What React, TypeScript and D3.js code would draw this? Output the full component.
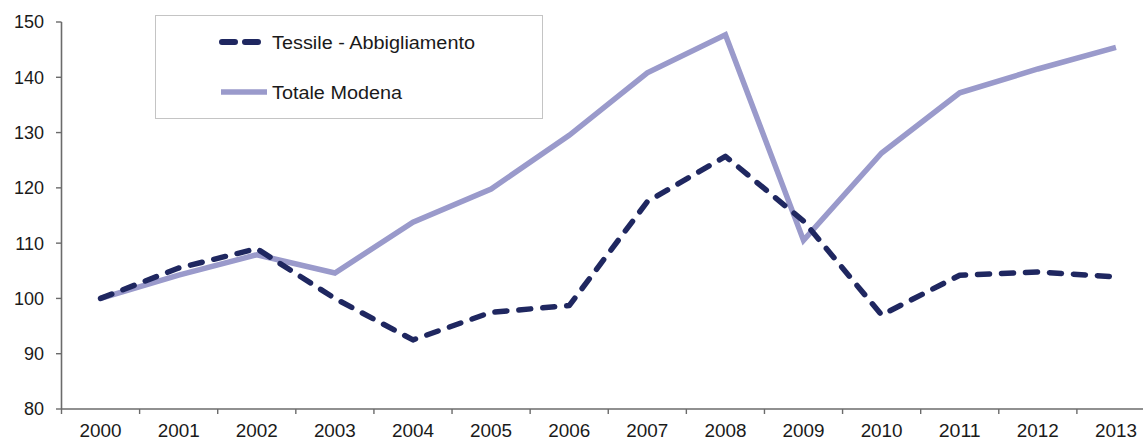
import React from "react";
import * as d3 from "d3";

const years = ["2000","2001","2002","2003","2004","2005","2006","2007","2008","2009","2010","2011","2012","2013"];
const tessile = [100, 105.5, 109, 100, 92.5, 97.5, 98.7, 117.5, 125.7, 114, 97, 104.2, 104.8, 103.9];
const totale = [100, 104.2, 107.9, 104.6, 113.8, 119.8, 129.5, 140.8, 147.7, 110.5, 126.3, 137.2, 141.5, 145.4];
const yTicks = [80, 90, 100, 110, 120, 130, 140, 150];
const seriesNames = ["Tessile - Abbigliamento", "Totale Modena"];

const W = 1143, H = 441;
const FONT = "'Liberation Sans', Arial, sans-serif";

export default function App() {
  const x = d3.scaleBand<string>().domain(years).range([61.5, 1155]);
  const y = d3.scaleLinear().domain([80, 150]).range([409, 22]);
  const cx = (i: number) => (x(years[i]) as number) + x.bandwidth() / 2;
  const line = d3.line<number>().x((_, i) => cx(i)).y((d) => y(d));
  const axisColor = "#6b6b6b";
  const dark = "#1f2760";
  const light = "#9a9acb";
  const txt = "#1a1a1a";

  return (
    <svg width={W} height={H} style={{ position: "absolute", left: 0, top: 0, background: "#fff" }}>
      {/* y axis */}
      <line x1={61.5} x2={61.5} y1={y(150)} y2={y(80)} stroke={axisColor} strokeWidth={1.6} />
      {yTicks.map((t) => (
        <g key={t}>
          <line x1={56} x2={61.5} y1={y(t)} y2={y(t)} stroke={axisColor} strokeWidth={1.4} />
          <text x={44} y={y(t)} dy="0.36em" textAnchor="end" fontFamily={FONT} fontSize={18} fill={txt}>{t}</text>
        </g>
      ))}
      {/* x axis */}
      <line x1={61.5} x2={1155} y1={y(80)} y2={y(80)} stroke={axisColor} strokeWidth={1.6} />
      {years.map((yr, i) => (
        <g key={yr}>
          <line x1={x(yr) as number} x2={x(yr) as number} y1={y(80)} y2={y(80) + 5} stroke={axisColor} strokeWidth={1.4} />
          <text x={cx(i)} y={431} dy="0.36em" textAnchor="middle" fontFamily={FONT} fontSize={18} textLength={42} lengthAdjust="spacingAndGlyphs" fill={txt}>{yr}</text>
        </g>
      ))}
      {/* lines */}
      <path d={line(totale) || ""} fill="none" stroke={light} strokeWidth={5.5} strokeLinejoin="miter" />
      <path d={line(tessile) || ""} fill="none" stroke={dark} strokeWidth={5.5} strokeDasharray="12,12" strokeLinecap="round" strokeLinejoin="round" />
      {/* legend */}
      <rect x={155.5} y={15.5} width={387} height={103} fill="#fff" stroke="#c4c4c4" strokeWidth={1} />
      <line x1={222} x2={263} y1={42} y2={42} stroke={dark} strokeWidth={6} strokeDasharray="13,10" strokeLinecap="round" />
      <text x={272} y={42.5} dy="0.36em" fontFamily={FONT} fontSize={17.5} textLength={203} lengthAdjust="spacingAndGlyphs" fill={txt}>{seriesNames[0]}</text>
      <line x1={221} x2={267} y1={92} y2={92} stroke={light} strokeWidth={5.5} />
      <text x={272} y={92.5} dy="0.36em" fontFamily={FONT} fontSize={17.5} textLength={130} lengthAdjust="spacingAndGlyphs" fill={txt}>{seriesNames[1]}</text>
    </svg>
  );
}
